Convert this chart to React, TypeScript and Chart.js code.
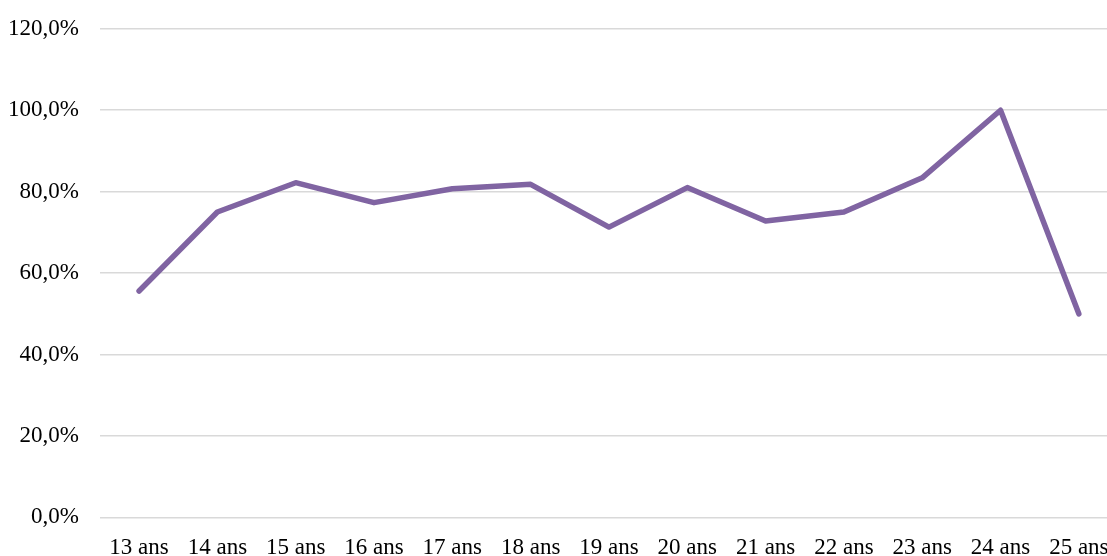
import React, { useEffect, useRef } from "react";
import { Chart, registerables } from "chart.js";

Chart.register(...registerables);

const categories = ["13 ans", "14 ans", "15 ans", "16 ans", "17 ans", "18 ans", "19 ans", "20 ans", "21 ans", "22 ans", "23 ans", "24 ans", "25 ans"];
const shareValues = [55.6, 75.0, 82.2, 77.3, 80.7, 81.8, 71.3, 81.0, 72.8, 75.0, 83.4, 100.0, 50.0];
const yTickMin = 0;
const yTickMax = 120;
const yTickStep = 20;

const FONT = '"Liberation Serif", "Times New Roman", serif';

export default function App() {
  const ref = useRef<HTMLCanvasElement | null>(null);

  useEffect(() => {
    if (!ref.current) return;
    const chart = new Chart(ref.current, {
      type: "line",
      data: {
        labels: categories,
        datasets: [
          {
            data: shareValues,
            borderColor: "#8064A2",
            borderWidth: 5.5,
            borderCapStyle: "round",
            borderJoinStyle: "round",
            pointRadius: 0,
            pointHoverRadius: 0,
            tension: 0,
            fill: false,
          },
        ],
      },
      options: {
        responsive: false,
        animation: false,
        layout: { padding: { left: 7, right: 12, top: 22, bottom: 10 } },
        plugins: { legend: { display: false }, tooltip: { enabled: false } },
        scales: {
          x: {
            type: "category",
            offset: true,
            grid: { display: false, drawTicks: false },
            border: { display: false },
            ticks: {
              padding: 17,
              maxRotation: 0,
              autoSkip: false,
              color: "#000000",
              font: { family: FONT, size: 23 },
            },
          },
          y: {
            min: yTickMin,
            max: yTickMax,
            grid: { color: "#d9d9d9", lineWidth: 1.5, drawTicks: false },
            border: { display: false },
            ticks: {
              stepSize: yTickStep,
              padding: 21,
              color: "#000000",
              font: { family: FONT, size: 23 },
              callback: (v: any) => Number(v).toFixed(1).replace(".", ",") + "%",
            },
          },
        },
      },
    });
    return () => chart.destroy();
  }, []);

  return (
    <div style={{ position: "absolute", left: 0, top: 0, width: 1107, height: 556, overflow: "hidden", background: "#fff" }}>
      <canvas ref={ref} width={1150} height={595} style={{ display: "block", marginLeft: -20, marginTop: -6 }} />
    </div>
  );
}
